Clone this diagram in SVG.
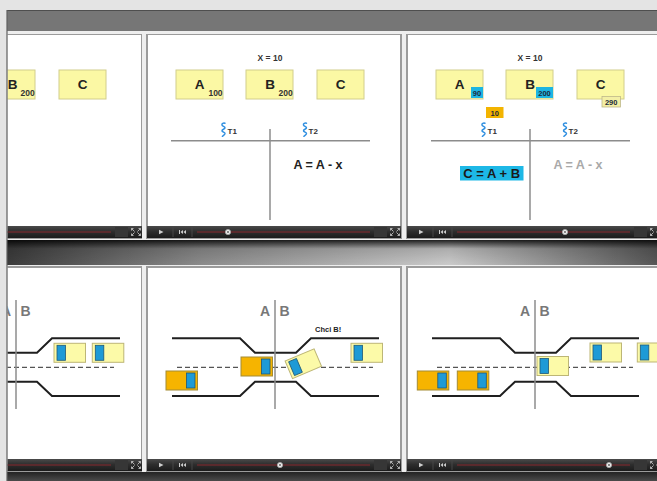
<svg xmlns="http://www.w3.org/2000/svg" width="657" height="481" viewBox="0 0 657 481">
<defs>
<style>
 .sans{font-family:"Liberation Sans",Arial,Helvetica,sans-serif;font-weight:bold}
 .panel{fill:#fff;stroke:#9b9b9b;stroke-width:2}
 .box{fill:#fbf8a4;stroke:#d2ce8c;stroke-width:1}
 .letter{font-size:13.5px;fill:#222;text-anchor:middle}
 .sub{font-size:8.5px;fill:#333;text-anchor:middle}
 .badge{font-size:7.5px;fill:#1c2a3a;text-anchor:middle}
 .xeq{font-size:8.5px;fill:#333;text-anchor:middle}
 .tl{stroke:#8c8c8c;stroke-width:1.5;fill:none}
 .thread{stroke:#2f8fe0;stroke-width:1.5;fill:none;stroke-linecap:round}
 .tname{font-size:8px;fill:#333}
 .expr{font-size:12.5px;fill:#222;text-anchor:middle}
 .road{fill:none;stroke:#1f1f1f;stroke-width:2}
 .lane{stroke:#555;stroke-width:1.3;stroke-dasharray:5 3}
 .ab{font-size:14px;fill:#787878;text-anchor:middle}
 .orange{fill:#f6b400;stroke:#a38b35;stroke-width:1}
 .yellow{fill:#fcfaa8;stroke:#bdb676;stroke-width:1}
 .win{fill:#1e9ad6;stroke:#1d5878;stroke-width:0.8}
 .track{stroke:#6a2a2e;stroke-width:1.4}
 .knob{fill:#eee;stroke:#aaa;stroke-width:0.8}
 .icon{fill:#cfcfcf}
</style>
<linearGradient id="barGrad" x1="0" y1="0" x2="0" y2="1">
 <stop offset="0" stop-color="#4a4a4a"/><stop offset="0.45" stop-color="#2e2e2e"/><stop offset="1" stop-color="#1b1b1b"/>
</linearGradient>
<linearGradient id="bandH" x1="7" y1="0" x2="657" y2="0" gradientUnits="userSpaceOnUse">
 <stop offset="0" stop-color="#3c3c3c"/><stop offset="0.3" stop-color="#8c8c8c"/><stop offset="0.68" stop-color="#cbcbcb"/><stop offset="1" stop-color="#575757"/>
</linearGradient>
<linearGradient id="bandV" x1="0" y1="0" x2="0" y2="1">
 <stop offset="0" stop-color="#000" stop-opacity="0.85"/><stop offset="0.35" stop-color="#000" stop-opacity="0.15"/><stop offset="1" stop-color="#000" stop-opacity="0"/>
</linearGradient>
<linearGradient id="footGrad" x1="0" y1="0" x2="0" y2="1">
 <stop offset="0" stop-color="#232323"/><stop offset="1" stop-color="#4a4a4a"/>
</linearGradient>

<!-- player control bar, local origin = panel left / bar top -->
<g id="ctrl">
 <rect x="0" y="0" width="254" height="12" fill="url(#barGrad)"/>
 <polygon class="icon" points="12,3.8 16.5,6 12,8.2"/>
 <line x1="26" y1="1" x2="26" y2="11" stroke="#474747"/>
 <rect class="icon" x="32" y="4" width="1" height="4"/>
 <polygon class="icon" points="36,4 33.5,6 36,8"/>
 <polygon class="icon" points="39,4 36.5,6 39,8"/>
 <line x1="45" y1="1" x2="45" y2="11" stroke="#474747"/>
 <line class="track" x1="50" y1="6" x2="223" y2="6"/>
 <rect x="227" y="1" width="13" height="10" fill="#363636"/>
 <path d="M243.5,2.5 l3,3 M243.5,2.5 h2 M243.5,2.5 v2 M252.5,2.5 l-3,3 M252.5,2.5 h-2 M252.5,2.5 v2 M243.5,9.5 l3,-3 M243.5,9.5 h2 M243.5,9.5 v-2 M252.5,9.5 l-3,-3 M252.5,9.5 h-2 M252.5,9.5 v-2" stroke="#bdbdbd" stroke-width="0.9" fill="none"/>
</g>

<!-- cars -->
<g id="carO">
 <rect class="orange" x="0" y="0" width="31.5" height="19"/>
 <rect class="win" x="20.5" y="2" width="8.5" height="15"/>
</g>
<g id="carY">
 <rect class="yellow" x="0" y="0" width="31.5" height="19"/>
 <rect class="win" x="3" y="2" width="8.5" height="15"/>
</g>

<!-- thread glyph -->
<path id="thread" class="thread" d="M4,0.3 c-1.5,-0.6 -3.5,0.3 -3,1.8 c0.4,1.4 3.2,1.2 3,2.8 c-0.2,1.5 -3.2,1.3 -3,2.9 c0.2,1.5 3.2,1.3 3,2.9 c-0.2,1.3 -2,1.6 -2.6,2.6"/>

<!-- three variable boxes (coordinates of middle panel) -->
<g id="boxes" class="sans">
 <rect class="box" x="176" y="70" width="47" height="29"/>
 <rect class="box" x="246" y="70" width="47" height="29"/>
 <rect class="box" x="317" y="70" width="47" height="29"/>
 <text class="letter" x="199.5" y="89">A</text>
 <text class="letter" x="270" y="89">B</text>
 <text class="letter" x="340.5" y="89">C</text>
</g>

<!-- T chart with two threads -->
<g id="tchart" class="sans">
 <text class="xeq" x="270" y="60.5">X = 10</text>
 <line class="tl" x1="171" y1="140.7" x2="370" y2="140.7"/>
 <line class="tl" x1="270" y1="129" x2="270" y2="220"/>
 <use href="#thread" x="221" y="123"/>
 <text class="tname" x="227.5" y="133.5">T1</text>
 <use href="#thread" x="302.5" y="123"/>
 <text class="tname" x="308.5" y="133.5">T2</text>
</g>

<!-- narrowing road (coordinates of middle panel) -->
<g id="roadSet">
 <path class="road" d="M172,338.3 H240 L255,352.7 H296 L311,338.3 H379"/>
 <path class="road" d="M172,396 H240 L255,381.7 H296 L311,396 H379"/>
 <line class="lane" x1="177" y1="367.3" x2="373" y2="367.3"/>
 <line class="tl" x1="275" y1="300" x2="275" y2="409"/>
 <text class="sans ab" x="265" y="315.5">A</text>
 <text class="sans ab" x="284.5" y="315.5">B</text>
</g>

<clipPath id="c11"><rect x="7.5" y="34" width="134.5" height="205"/></clipPath>
<clipPath id="c12"><rect x="146" y="34" width="256" height="205"/></clipPath>
<clipPath id="c13"><rect x="406" y="34" width="251" height="205"/></clipPath>
<clipPath id="c21"><rect x="7.5" y="266" width="134.5" height="206"/></clipPath>
<clipPath id="c22"><rect x="146" y="266" width="256" height="206"/></clipPath>
<clipPath id="c23"><rect x="406" y="266" width="251" height="206"/></clipPath>
</defs>

<!-- page and frame -->
<rect x="0" y="0" width="657" height="481" fill="#e4e4e4"/>
<rect x="7" y="31" width="650" height="450" fill="#eeeeee"/>
<rect x="7" y="10" width="650" height="21" fill="#767676"/>
<line x1="7" y1="10.5" x2="657" y2="10.5" stroke="#4e4e4e" stroke-width="1"/>
<rect x="7" y="240" width="650" height="25" fill="url(#bandH)"/>
<rect x="7" y="240" width="650" height="25" fill="url(#bandV)"/>
<rect x="7" y="472" width="650" height="9" fill="url(#footGrad)"/>

<!-- row 1, panel 1 (only its right part is in view) -->
<g id="r1p1" clip-path="url(#c11)">
 <rect class="panel" x="-112" y="34" width="254" height="204"/>
 <g class="sans">
  <rect class="box" x="-12" y="70" width="47" height="29"/>
  <rect class="box" x="59" y="70" width="47" height="29"/>
  <text class="letter" x="12.5" y="89">B</text>
  <text class="sub" x="27.7" y="96">200</text>
  <text class="letter" x="82.5" y="89">C</text>
 </g>
 <use href="#ctrl" x="-112" y="226"/>
</g>

<!-- row 1, panel 2 -->
<g id="r1p2" clip-path="url(#c12)">
 <rect class="panel" x="147" y="34" width="254" height="204"/>
 <use href="#boxes"/>
 <text class="sans sub" x="215.5" y="96">100</text>
 <text class="sans sub" x="285.7" y="96">200</text>
 <use href="#tchart"/>
 <text class="sans expr" x="318" y="168.5">A = A - x</text>
 <use href="#ctrl" x="147" y="226"/>
 <circle class="knob" cx="228" cy="232" r="2.6"/><circle cx="228" cy="232" r="0.9" fill="#555"/>
</g>

<!-- row 1, panel 3 -->
<g id="r1p3" clip-path="url(#c13)">
 <rect class="panel" x="407" y="34" width="254" height="204"/>
 <g transform="translate(260,0)">
  <use href="#boxes"/>
  <use href="#tchart"/>
 </g>
 <rect x="471" y="87" width="12" height="11" fill="#1db5e2"/>
 <text class="sans badge" x="477" y="95.5">90</text>
 <rect x="536" y="87" width="17" height="11" fill="#1db5e2"/>
 <text class="sans badge" x="544.5" y="95.5">200</text>
 <rect x="602" y="96.5" width="18.5" height="10.5" fill="#f3efa4" stroke="#bdb78a" stroke-width="0.8"/>
 <text class="sans badge" x="611.2" y="104.5" fill="#333">290</text>
 <rect x="486" y="107" width="17.5" height="11" fill="#f3b400"/>
 <text class="sans badge" x="494.7" y="115.5">10</text>
 <rect x="460" y="166" width="63.5" height="14.5" fill="#1db8e6"/>
 <text class="sans" x="491.7" y="178.3" font-size="13" fill="#1a1a1a" text-anchor="middle">C = A + B</text>
 <text class="sans expr" x="578" y="168.5" style="fill:#a9a9a9">A = A - x</text>
 <use href="#ctrl" x="407" y="226"/>
 <circle class="knob" cx="565" cy="232" r="2.6"/><circle cx="565" cy="232" r="0.9" fill="#555"/>
</g>

<!-- row 2, panel 1 -->
<g id="r2p1" clip-path="url(#c21)">
 <rect class="panel" x="-112" y="267" width="254" height="204"/>
 <use href="#roadSet" transform="translate(-259,0)"/>
 <use href="#carY" x="54" y="343.3"/>
 <use href="#carY" x="92.3" y="343.3"/>
 <use href="#ctrl" x="-112" y="459"/>
</g>

<!-- row 2, panel 2 -->
<g id="r2p2" clip-path="url(#c22)">
 <rect class="panel" x="147" y="267" width="254" height="204"/>
 <use href="#roadSet"/>
 <text class="sans" x="315" y="332.3" font-size="7.5" fill="#222">Chci B!</text>
 <use href="#carO" x="166" y="371"/>
 <use href="#carO" x="241" y="357"/>
 <use href="#carY" transform="translate(303.3,363.7) rotate(-23) translate(-15.75,-9.5)"/>
 <use href="#carY" x="351" y="343.3"/>
 <use href="#ctrl" x="147" y="459"/>
 <circle class="knob" cx="280" cy="465" r="2.6"/><circle cx="280" cy="465" r="0.9" fill="#555"/>
</g>

<!-- row 2, panel 3 -->
<g id="r2p3" clip-path="url(#c23)">
 <rect class="panel" x="407" y="267" width="254" height="204"/>
 <use href="#roadSet" transform="translate(260,0)"/>
 <use href="#carO" x="417.3" y="371"/>
 <use href="#carO" x="457.3" y="371"/>
 <use href="#carY" x="537" y="356.5"/>
 <use href="#carY" x="590" y="343"/>
 <use href="#carY" x="637.3" y="343"/>
 <use href="#ctrl" x="407" y="459"/>
 <circle class="knob" cx="609" cy="465" r="2.6"/><circle cx="609" cy="465" r="0.9" fill="#555"/>
</g>

<!-- left frame edge, drawn last so it sits over the clipped panels -->
<line x1="7" y1="10" x2="7" y2="481" stroke="#606060" stroke-width="1.2"/>
</svg>
